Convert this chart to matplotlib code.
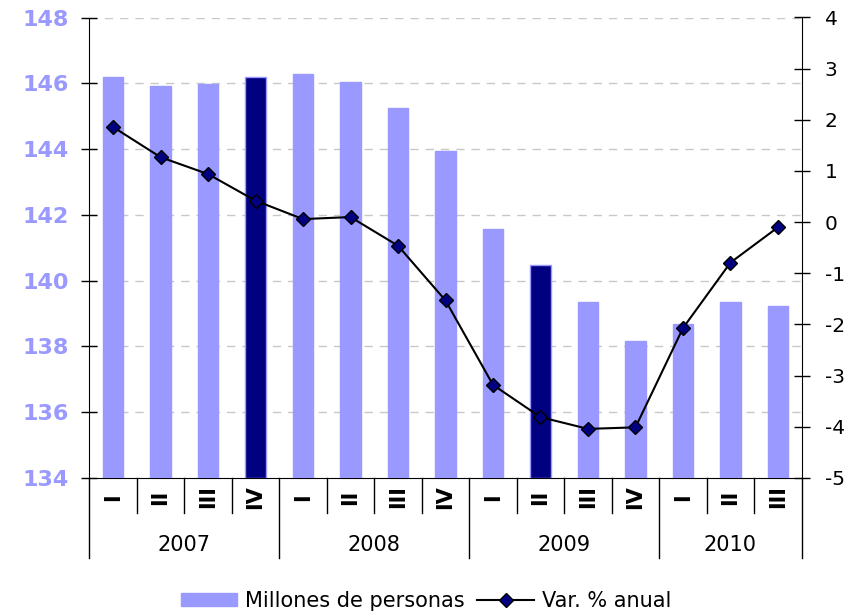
import matplotlib
matplotlib.use("Agg")
import matplotlib.pyplot as plt
from matplotlib.lines import Line2D
from matplotlib.patches import Patch
import matplotlib.transforms as mtransforms

# ---- data ----
years = ["2007", "2008", "2009", "2010"]
quarters_per_year = [4, 4, 4, 3]
quarter_labels = ["I", "II", "III", "IV", "I", "II", "III", "IV",
                  "I", "II", "III", "IV", "I", "II", "III"]
millones = [146.18, 145.93, 145.98, 146.18, 146.27, 146.03, 145.26, 143.94,
            141.56, 140.47, 139.34, 138.17, 138.69, 139.34, 139.24]
var_anual = [1.86, 1.27, 0.94, 0.42, 0.06, 0.10, -0.46, -1.53,
             -3.18, -3.81, -4.04, -4.01, -2.07, -0.79, -0.10]
highlighted = [3, 9]  # indices of dark bars
left_ticks = [134, 136, 138, 140, 142, 144, 146, 148]
right_ticks = [-5, -4, -3, -2, -1, 0, 1, 2, 3, 4]

light = "#9999FF"
dark = "#000080"

W, H = 857, 613
fig = plt.figure(figsize=(W / 100, H / 100), dpi=100)
L, R, T, B = 89.3, 801.7, 17.5, 478.0
ax = fig.add_axes([L / W, 1 - B / H, (R - L) / W, (B - T) / H])
ax2 = ax.twinx()

n = len(millones)
x = list(range(n))
colors = [dark if i in highlighted else light for i in x]
ax.bar(x, [m - 134 for m in millones], bottom=134, width=0.43, color=colors,
       edgecolor=light, linewidth=1.0, zorder=3)
ax.set_xlim(-0.5, n - 0.5)
ax.set_ylim(134, 148)
ax.set_yticks(left_ticks)
ax.set_yticklabels([str(t) for t in left_ticks], color=light,
                   fontweight="bold", fontsize=16)
for t in left_ticks[1:]:
    ax.axhline(t, color="#c8c8c8", lw=1.0, dashes=(6, 5), zorder=1)
ax.tick_params(axis="y", direction="inout", length=11, width=1, color="black", pad=9)
ax.set_xticks([])
for s in ["top", "right"]:
    ax.spines[s].set_visible(False)
ax.spines["left"].set_color("black")
ax.spines["bottom"].set_color("black")

ax2.plot(x, var_anual, color="black", lw=1.5, marker="D", markersize=7,
         markerfacecolor=dark, markeredgecolor="black", markeredgewidth=1.0,
         zorder=5)
ax2.set_ylim(-5, 4)
ax2.set_yticks(right_ticks)
ax2.set_yticklabels([str(t) for t in right_ticks], fontsize=14.5, color="black")
ax2.tick_params(axis="y", direction="inout", length=11, width=1, color="black", pad=11)
for s in ["top", "left", "bottom"]:
    ax2.spines[s].set_visible(False)
ax2.spines["right"].set_color("black")
ax.set_zorder(1)
ax2.set_zorder(2)
ax.patch.set_visible(False)

# ---- category axis (two-level) ----
trans = mtransforms.blended_transform_factory(ax.transData, ax.transAxes)
hpx = B - T
short_y = -(513 - B) / hpx
long_y = -(558 - B) / hpx
roman_y = -(497 - B) / hpx
year_y = -(545 - B) / hpx

year_bounds = [0]
for q in quarters_per_year:
    year_bounds.append(year_bounds[-1] + q)

for i in range(n + 1):
    xb = i - 0.5
    yb = long_y if i in year_bounds else short_y
    ax.plot([xb, xb], [0, yb], transform=trans, color="black", lw=1.0,
            clip_on=False, zorder=4)

for i, lab in enumerate(quarter_labels):
    ax.text(i, roman_y, lab, transform=trans, rotation=90, ha="center",
            va="center", fontsize=15, fontweight="bold", color="black")

for k, yr in enumerate(years):
    xc = (year_bounds[k] + year_bounds[k + 1] - 1) / 2
    ax.text(xc, year_y, yr, transform=trans, ha="center", va="center",
            fontsize=15, color="black")

# ---- legend ----
handles = [Patch(facecolor=light, edgecolor=light),
           Line2D([0], [0], color="black", lw=1.5, marker="D", markersize=7,
                  markerfacecolor=dark, markeredgecolor="black")]
fig.legend(handles, ["Millones de personas", "Var. % anual"], loc="center",
           bbox_to_anchor=(426 / W, 1 - 601 / H), ncol=2, frameon=False,
           fontsize=15, handlelength=2.7, handleheight=0.6, handletextpad=0.4,
           columnspacing=0.6, borderpad=0)

fig.savefig("out.png", dpi=100)
